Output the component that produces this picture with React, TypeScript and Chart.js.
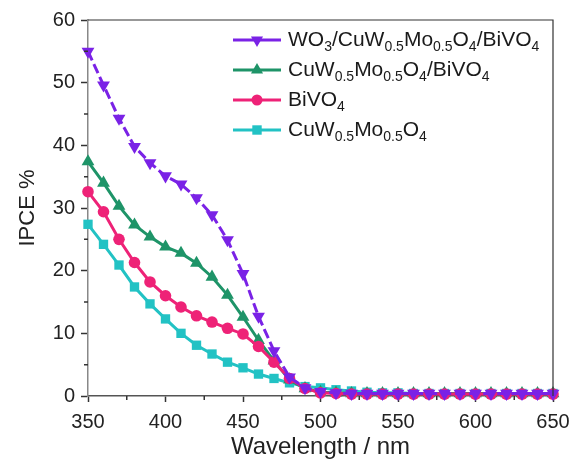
import React, { useEffect, useRef } from 'react';
import { Chart, registerables } from 'chart.js';

Chart.register(...registerables);

const wavelengths = [350, 360, 370, 380, 390, 400, 410, 420, 430, 440, 450, 460, 470, 480, 490, 500, 510, 520, 530, 540, 550, 560, 570, 580, 590, 600, 610, 620, 630, 640, 650];

const wo3Composite = [55.0, 49.6, 44.3, 39.8, 37.2, 35.1, 33.8, 31.6, 28.9, 24.9, 19.5, 12.7, 7.2, 3.0, 1.3, 0.7, 0.5, 0.4, 0.4, 0.4, 0.4, 0.4, 0.4, 0.4, 0.4, 0.4, 0.4, 0.4, 0.4, 0.4, 0.4];
const cuwBivo4 = [37.4, 34.0, 30.3, 27.3, 25.4, 23.8, 22.8, 21.2, 19.0, 16.1, 12.6, 8.9, 5.6, 2.6, 1.2, 0.6, 0.5, 0.4, 0.4, 0.4, 0.4, 0.4, 0.4, 0.4, 0.4, 0.4, 0.4, 0.4, 0.4, 0.4, 0.4];
const bivo4 = [32.6, 29.4, 25.0, 21.3, 18.2, 16.0, 14.2, 12.8, 11.8, 10.8, 9.9, 7.9, 5.4, 2.8, 1.2, 0.5, 0.4, 0.3, 0.3, 0.3, 0.3, 0.3, 0.3, 0.3, 0.3, 0.3, 0.3, 0.3, 0.3, 0.3, 0.3];
const cuwMo = [27.4, 24.2, 20.9, 17.4, 14.7, 12.3, 10.0, 8.1, 6.7, 5.4, 4.5, 3.5, 2.8, 2.1, 1.5, 1.3, 1.0, 0.8, 0.6, 0.5, 0.5, 0.4, 0.4, 0.4, 0.4, 0.4, 0.4, 0.4, 0.4, 0.4, 0.4];

// Legend labels; _{...} marks subscripts
const seriesLabels = [
  'WO_{3}/CuW_{0.5}Mo_{0.5}O_{4}/BiVO_{4}',
  'CuW_{0.5}Mo_{0.5}O_{4}/BiVO_{4}',
  'BiVO_{4}',
  'CuW_{0.5}Mo_{0.5}O_{4}',
];
const seriesColors = ['#7A22E6', '#1E9468', '#EE2277', '#22C2C4'];
const seriesStyles = ['triangleDown', 'triangle', 'circle', 'rect'];

const xTitle = 'Wavelength / nm';
const yTitle = 'IPCE %';
const xMinorTicks = [375, 425, 475, 525, 575, 625];
const yMinorTicks = [5, 15, 25, 35, 45, 55];

const FONT = '"Liberation Sans", Arial, Helvetica, sans-serif';

function parseLabel(text: string) {
  const parts: { t: string; sub: boolean }[] = [];
  const re = /_\{([^}]*)\}/g;
  let last = 0;
  let m: RegExpExecArray | null;
  while ((m = re.exec(text)) !== null) {
    if (m.index > last) parts.push({ t: text.slice(last, m.index), sub: false });
    parts.push({ t: m[1], sub: true });
    last = m.index + m[0].length;
  }
  if (last < text.length) parts.push({ t: text.slice(last), sub: false });
  return parts;
}

function drawMarker(ctx: CanvasRenderingContext2D, style: string, x: number, y: number, color: string) {
  ctx.save();
  ctx.fillStyle = color;
  ctx.beginPath();
  if (style === 'circle') {
    ctx.arc(x, y, 5.5, 0, Math.PI * 2);
  } else if (style === 'rect') {
    ctx.rect(x - 4.7, y - 4.7, 9.4, 9.4);
  } else if (style === 'triangle') {
    const r = 7;
    ctx.moveTo(x, y - r);
    ctx.lineTo(x + r * 0.866, y + r * 0.5);
    ctx.lineTo(x - r * 0.866, y + r * 0.5);
    ctx.closePath();
  } else {
    const r = 7;
    ctx.moveTo(x, y + r);
    ctx.lineTo(x + r * 0.866, y - r * 0.5);
    ctx.lineTo(x - r * 0.866, y - r * 0.5);
    ctx.closePath();
  }
  ctx.fill();
  ctx.restore();
}

const legendPlugin = {
  id: 'subLegend',
  afterDraw(chart: any) {
    const ctx: CanvasRenderingContext2D = chart.ctx;
    const x0 = 233;
    const x1 = 281;
    const tx = 288;
    const y0 = 40;
    const dy = 30;
    ctx.save();
    seriesLabels.forEach((lab, i) => {
      const y = y0 + i * dy;
      const color = seriesColors[i];
      ctx.strokeStyle = color;
      ctx.lineWidth = 3;
      ctx.setLineDash([]);
      ctx.beginPath();
      ctx.moveTo(x0, y);
      ctx.lineTo(x1, y);
      ctx.stroke();
      drawMarker(ctx, seriesStyles[i], (x0 + x1) / 2, y, color);
      let x = tx;
      ctx.fillStyle = '#1a1a1a';
      ctx.textBaseline = 'middle';
      ctx.textAlign = 'left';
      for (const p of parseLabel(lab)) {
        if (p.sub) {
          ctx.font = `14px ${FONT}`;
          ctx.fillText(p.t, x, y + 7);
        } else {
          ctx.font = `21px ${FONT}`;
          ctx.fillText(p.t, x, y);
        }
        x += ctx.measureText(p.t).width;
      }
    });
    ctx.restore();
  },
};

const framePlugin = {
  id: 'frameTicks',
  afterDraw(chart: any) {
    const ctx: CanvasRenderingContext2D = chart.ctx;
    const { left, right, top, bottom } = chart.chartArea;
    const xs = chart.scales.x;
    const ys = chart.scales.y;
    ctx.save();
    ctx.strokeStyle = '#333';
    ctx.lineWidth = 1.2;
    ctx.beginPath();
    ctx.moveTo(left, top);
    ctx.lineTo(right, top);
    ctx.lineTo(right, bottom);
    ctx.stroke();
    ctx.lineWidth = 1.5;
    ctx.beginPath();
    for (const v of xMinorTicks) {
      const px = xs.getPixelForValue(v);
      ctx.moveTo(px, bottom);
      ctx.lineTo(px, bottom + 4);
    }
    for (const v of yMinorTicks) {
      const py = ys.getPixelForValue(v);
      ctx.moveTo(left, py);
      ctx.lineTo(left - 4, py);
    }
    ctx.stroke();
    ctx.restore();
  },
};

const chartStyle = (i: number) => {
  const s = seriesStyles[i];
  return {
    pointStyle: s === 'triangleDown' ? 'triangle' : s,
    rotation: s === 'triangleDown' ? 180 : 0,
    radius: s === 'circle' ? 5.8 : s === 'rect' ? 6.6 : 7.4,
  };
};

const seriesData = [wo3Composite, bivo4, cuwBivo4, cuwMo];
const seriesIndex = [0, 2, 1, 3];

export default function App() {
  const ref = useRef<HTMLCanvasElement | null>(null);
  useEffect(() => {
    if (!ref.current) return;
    const datasets = seriesIndex.map((si, k) => {
      const st = chartStyle(si);
      return {
        label: seriesLabels[si],
        data: wavelengths.map((w, j) => ({ x: w, y: seriesData[k][j] })),
        borderColor: seriesColors[si],
        backgroundColor: seriesColors[si],
        borderWidth: 3,
        borderDash: si === 0 ? [10, 4] : [],
        pointStyle: st.pointStyle,
        pointRotation: st.rotation,
        pointRadius: st.radius,
        pointBorderWidth: 0,
        pointBackgroundColor: seriesColors[si],
        tension: 0,
        clip: false,
      };
    });
    const chart = new Chart(ref.current, {
      type: 'line',
      data: { datasets: datasets as any },
      options: {
        animation: false,
        responsive: false,
        maintainAspectRatio: false,
        layout: { padding: { top: 20, right: 18, left: 0, bottom: 0 } },
        plugins: { legend: { display: false }, tooltip: { enabled: false } },
        scales: {
          x: {
            type: 'linear',
            min: 350,
            max: 650,
            ticks: { stepSize: 50, font: { size: 20, family: FONT }, color: '#222', padding: 8, maxRotation: 0 },
            grid: { drawOnChartArea: false, tickLength: 6, color: '#333', tickWidth: 1.5 },
            border: { color: '#555', width: 1.5 },
            title: { display: true, text: xTitle, font: { size: 24, family: FONT }, color: '#222', padding: { top: 0, bottom: 0 } },
            afterFit: (s: any) => { s.height = 66; s.paddingLeft = 0; s.paddingRight = 0; },
          },
          y: {
            type: 'linear',
            min: 0,
            max: 60,
            ticks: { stepSize: 10, font: { size: 20, family: FONT }, color: '#222', padding: 6 },
            grid: { drawOnChartArea: false, tickLength: 7, color: '#333', tickWidth: 1.5 },
            border: { color: '#888', width: 1.5 },
            title: { display: true, text: yTitle, font: { size: 22, family: FONT }, color: '#222', padding: { top: 15, bottom: 0 } },
            afterFit: (s: any) => { s.width = 88; s.paddingTop = 0; s.paddingBottom = 0; },
          },
        },
      } as any,
      plugins: [framePlugin, legendPlugin],
    });
    return () => chart.destroy();
  }, []);
  return (
    <div style={{ position: 'fixed', left: 0, top: 0, width: 571, height: 462, background: '#fff' }}>
      <canvas ref={ref} width={571} height={462} style={{ width: 571, height: 462, display: 'block' }} />
    </div>
  );
}
